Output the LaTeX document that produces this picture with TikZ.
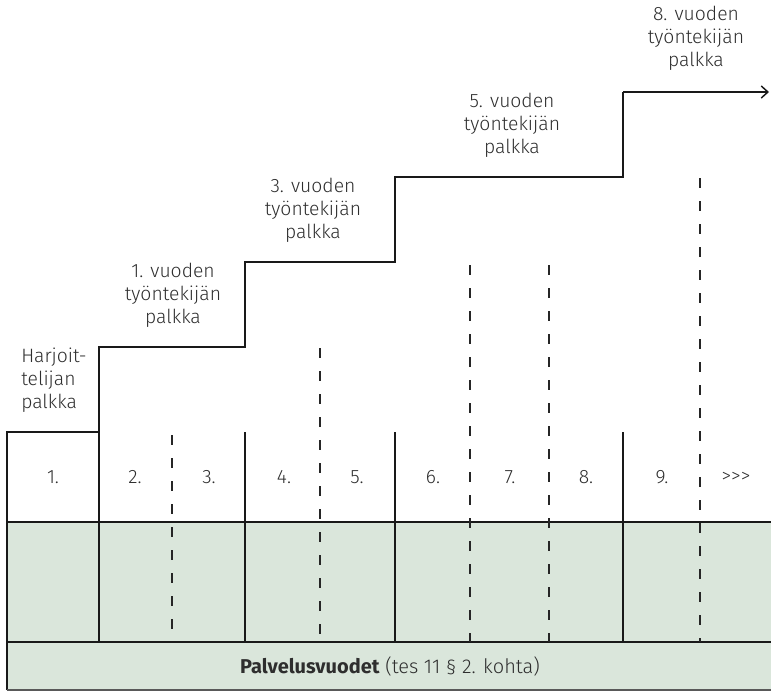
\documentclass[tikz,border=0pt]{standalone}
\usepackage{fontspec}
\setmainfont{Fira Sans}[UprightFont=* Light, BoldFont=* Bold]
\usetikzlibrary{arrows.meta}
\definecolor{bandgreen}{HTML}{DAE6DB}
\definecolor{inkgray}{HTML}{2E2E2E}
\tikzset{
    wall/.style={line width=1.1pt, draw=black!90},
    split/.style={line width=1.1pt, draw=black!85, dash pattern=on 7.5pt off 9.75pt},
    salary/.style={align=center, inner sep=0pt, text=inkgray, font=\fontsize{14.5}{17.25}\selectfont},
    year/.style={inner sep=0pt, text=inkgray, font=\fontsize{14.5}{17}\selectfont}
}
\begin{document}
\begin{tikzpicture}[x=0.75pt,y=-0.75pt]
\useasboundingbox (0,0) rectangle (771,697);
\fill[bandgreen] (7,522) rectangle (771,690);

\draw[wall] (7,690)--(7,432)--(99,432)--(99,347)--(245,347)--(245,262)--(395,262)--(395,177)--(623,177)--(623,92);
\draw[wall,-{Straight Barb[length=5pt,width=9pt]}] (623,92)--(769,92);
\foreach \x in {99,245,395,623}
{
    \draw[wall] (\x,432)--(\x,642);
}
\draw[wall] (7,522)--(771,522);
\draw[wall] (7,642)--(771,642);
\draw[line width=1.1pt, draw=black!65] (7,690)--(771,690);

\foreach \x/\y in {172/435, 320/348, 470/265, 549/265, 700/178}
{
    \draw[split] (\x,\y)--(\x,642);
}

\foreach \x/\y in {53/1, 135/2, 209/3, 284/4, 357/5, 433/6, 510/7, 586/8, 662/9}
{
    \node[year] (Y\y) at (\x,477){\y.};
}
\node[year] (Ymore) at (736,477){>{}>{}>};

\node[salary, align=left, anchor=west] (trainee) at (21,380){Harjoit-\\telijan\\palkka};
\node[salary] (pay1) at (173,295){1. vuoden\\työntekijän\\palkka};
\node[salary] (pay3) at (313,210){3. vuoden\\työntekijän\\palkka};
\node[salary] (pay5) at (512,125){5. vuoden\\työntekijän\\palkka};
\node[salary] (pay8) at (696,38){8. vuoden\\työntekijän\\palkka};

\node[year, font=\fontsize{15}{17}\selectfont] (service) at (390,666){\textbf{Palvelusvuodet} (tes 11 § 2. kohta)};
\end{tikzpicture}
\end{document}
